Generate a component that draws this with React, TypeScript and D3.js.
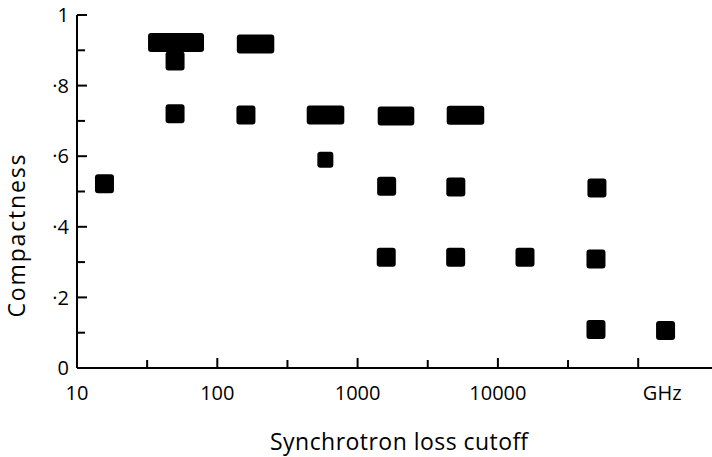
import React from "react";
import * as d3 from "d3";

// Data: frequency range (GHz) of each marker and compactness
const freqLo = [15.7, 37.5, 50, 50, 161, 160, 507, 589, 1625, 5045, 1611, 5012, 50800, 1600, 5000, 15600, 50000, 50000, 156700];
const freqHi = [15.7, 68.8, 50, 50, 218, 160, 688, 589, 2170, 6840, 1611, 5012, 50800, 1600, 5000, 15600, 50000, 50000, 156700];
const compactness = [0.522, 0.922, 0.87, 0.72, 0.918, 0.717, 0.717, 0.59, 0.714, 0.716, 0.515, 0.513, 0.51, 0.314, 0.314, 0.314, 0.309, 0.109, 0.106];
const small = [false, false, false, false, false, false, false, true, false, false, false, false, false, false, false, false, false, false, false];

const xMajorTicks = [10, 100, 1000, 10000, 100000];
const xHalfTicks = [31.62, 316.2, 3162, 31620];
const xTickLabels = ["10", "100", "1000", "10000", "GHz"];
const yTicks = [0, 0.1, 0.2, 0.3, 0.4, 0.5, 0.6, 0.7, 0.8, 0.9, 1.0];
const yLabelTicks = [0, 0.2, 0.4, 0.6, 0.8, 1.0];
const yTickLabels = ["0", "·2", "·4", "·6", "·8", "1"];

const W = 712;
const H = 457;
const FONT = "'Open Sans', 'DejaVu Sans', sans-serif";

export default function App() {
  const x = d3.scaleLog().domain([10, 100000]).range([77, 638.2]);
  const y = d3.scaleLinear().domain([0, 1]).range([368, 15]);
  const x0 = x(10);
  const y0 = y(0);

  return (
    <svg
      width={W}
      height={H}
      style={{ position: "absolute", left: 0, top: 0, background: "#fff" }}
      fontFamily={FONT}
    >
      {/* axes */}
      <line x1={x0} y1={y0} x2={W} y2={y0} stroke="#000" strokeWidth={2} />
      <line x1={x0} y1={y0} x2={x0} y2={y(1)} stroke="#000" strokeWidth={2} />
      {/* x ticks */}
      {xMajorTicks.map((t) => (
        <line key={"xm" + t} x1={x(t)} x2={x(t)} y1={y0} y2={y0 - 10} stroke="#000" strokeWidth={2} />
      ))}
      {xHalfTicks.map((t) => (
        <line key={"xh" + t} x1={x(t)} x2={x(t)} y1={y0} y2={y0 - 8} stroke="#000" strokeWidth={2} />
      ))}
      {xMajorTicks.map((t, i) => (
        <text
          key={"xl" + t}
          x={x(t) + (i === xMajorTicks.length - 1 ? 24 : 0)}
          y={400}
          fontSize={20}
          textAnchor="middle"
          fill="#000"
        >
          {xTickLabels[i]}
        </text>
      ))}
      {/* y ticks */}
      {yTicks.map((t, i) => (
        <line
          key={"yt" + i}
          x1={x0}
          x2={x0 + (i % 2 === 0 ? 10 : 8)}
          y1={y(t)}
          y2={y(t)}
          stroke="#000"
          strokeWidth={2}
        />
      ))}
      {yLabelTicks.map((t, i) => (
        <text
          key={"yl" + i}
          x={69}
          y={y(t)}
          dy="0.36em"
          fontSize={20}
          textAnchor="end"
          fill="#000"
        >
          {yTickLabels[i]}
        </text>
      ))}
      {/* markers */}
      {compactness.map((c, i) => {
        const s = small[i] ? 16 : 19;
        const left = x(freqLo[i]) - s / 2;
        const right = x(freqHi[i]) + s / 2;
        return (
          <rect
            key={"m" + i}
            x={left}
            y={y(c) - s / 2}
            width={right - left}
            height={s}
            rx={3}
            ry={3}
            fill="#000"
          />
        );
      })}
      {/* axis titles */}
      <text x={399} y={450} fontSize={23} textAnchor="middle" textLength={258} lengthAdjust="spacing" fill="#000">
        Synchrotron loss cutoff
      </text>
      <text
        transform={`translate(25,236) rotate(-90)`}
        fontSize={23}
        textAnchor="middle"
        textLength={163}
        lengthAdjust="spacing"
        fill="#000"
      >
        Compactness
      </text>
    </svg>
  );
}
